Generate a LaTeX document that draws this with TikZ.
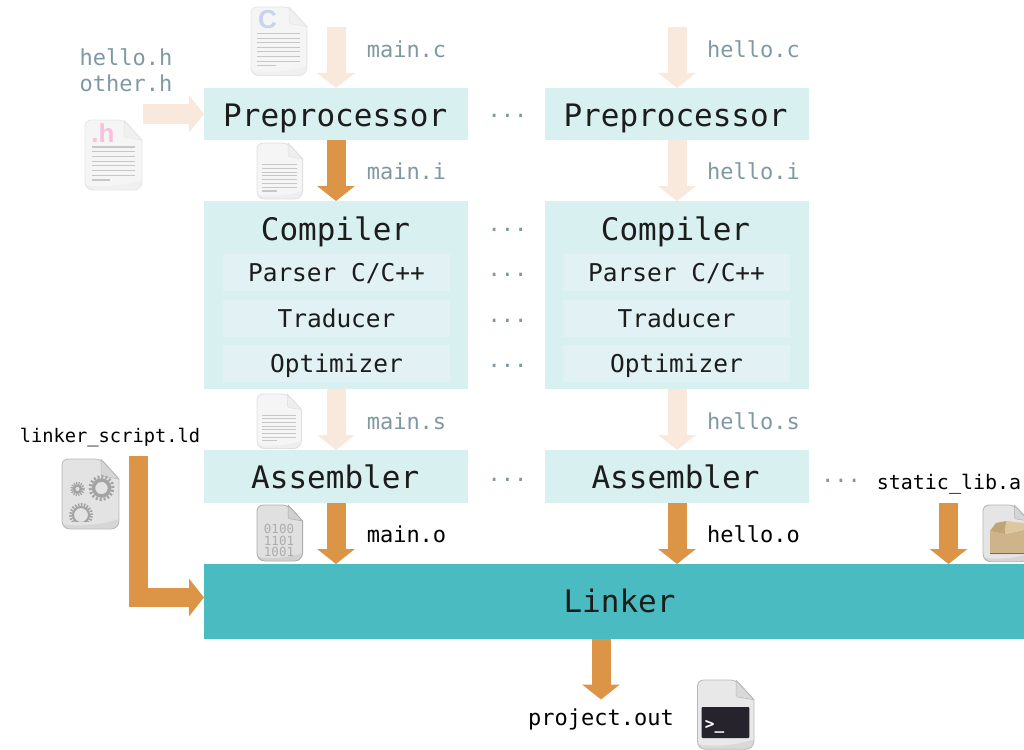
\documentclass[tikz,border=0pt]{standalone}
\usepackage{fontspec}
\setmainfont{Liberation Sans}
\setmonofont{DejaVu Sans Mono}
\usetikzlibrary{arrows.meta, positioning}

\definecolor{stagefill}{HTML}{D9F0F0}
\definecolor{passfill}{HTML}{E2F2F4}
\definecolor{linkfill}{HTML}{4ABBC0}
\definecolor{flowdark}{HTML}{DC9447}
\definecolor{flowlight}{HTML}{F9E9DC}
\definecolor{filetext}{HTML}{7F99A3}
\definecolor{inktext}{HTML}{1C1C1C}
\definecolor{cmark}{HTML}{C9D3F0}
\definecolor{hmark}{HTML}{F9BFDD}
\definecolor{boxfront}{HTML}{CDB48A}
\definecolor{boxflap}{HTML}{BFA577}
\definecolor{boxlid}{HTML}{DEC69E}
\definecolor{boxbase}{HTML}{826C4E}
\definecolor{termfill}{HTML}{26232C}

% a page with folded corner, 57 x 70 before scaling
\newcommand{\docicon}[5]{%
  \begin{scope}[shift={(#1,#2)},scale=#3]
    \path[fill=#4,draw=#5,line width=0.8pt,rounded corners=6pt]
      (0,70) -- (0,0) -- (39,0) [sharp corners] -- (57,20) [rounded corners=8pt] -- (57,70) -- cycle;
    \path[fill=#5,fill opacity=0.3,draw=#5,line width=0.5pt] (39,0) -- (39,15) -- (40,17) -- (57,20) -- cycle;
    \path[fill=#5,opacity=0.3] (0.5,65) .. controls (15,68) and (40,66) .. (56.5,60)
      .. controls (56.5,66) and (54,69.5) .. (49,69.5) -- (6,69.5) .. controls (2,69.5) and (0.5,68) .. (0.5,65);
  \end{scope}}
% the ruled text of a page
\newcommand{\doclines}[3]{%
  \begin{scope}[shift={(#1,#2)},scale=#3]
    \foreach \y in {27,31.7,36.4,41.1,45.8,50.5,55.2}
      \draw[line width=1.1pt,draw=black!22] (6.5,\y) -- (50,\y);
    \draw[line width=1.1pt,draw=black!22] (6.5,60) -- (25,60);
  \end{scope}}

\begin{document}
\begin{tikzpicture}[x=1pt, y=-1pt, every node/.style={inner sep=0pt, outer sep=0pt}]
\tikzset{
  stage/.style={fill=stagefill, minimum width=264pt},
  pass/.style={fill=passfill, minimum width=227pt, minimum height=37pt},
  title/.style={font=\ttfamily\fontsize{31}{31}\selectfont, text=inktext, text height=29pt, text depth=7pt},
  passname/.style={font=\ttfamily\fontsize{24.5}{24.5}\selectfont, text=inktext, text height=22pt, text depth=5pt},
  filename/.style={font=\ttfamily\fontsize{22}{22}\selectfont, text=filetext, text height=21pt, text depth=5pt},
  outname/.style={filename, text=black},
  more/.style={font=\ttfamily\fontsize{22}{22}\selectfont, text=filetext, yshift=-4pt},
  strong flow/.style={draw=flowdark, line width=19pt, -{Triangle[length=15pt,width=37pt]}},
  faint flow/.style={strong flow, draw=flowlight},
  bits/.style={font=\ttfamily\fontsize{12.5}{12.5}\selectfont, text=black!32}
}
\clip (0,0) rectangle (1024,749);

% stages of the two translation units
\node[stage, minimum height=52pt] (prep1) at (336,114) {};
\node[stage, minimum height=52pt] (prep2) at (677,114) {};
\node[stage, minimum height=188pt] (comp1) at (336,295) {};
\node[stage, minimum height=188pt] (comp2) at (677,295) {};
\node[stage, minimum height=53pt] (asm1) at (336,476.5) {};
\node[stage, minimum height=53pt] (asm2) at (677,476.5) {};
\node[fill=linkfill, minimum width=830pt, minimum height=75pt] (linker) at (619,601.5) {};

\node[title] (prep1 name) at (335.2,115) {Preprocessor};
\node[title] (prep2 name) at (675.5,115) {Preprocessor};
\node[title] (comp1 name) at (335.5,229) {Compiler};
\node[title] (comp2 name) at (675.5,229) {Compiler};
\node[title] (asm1 name) at (335.2,477) {Assembler};
\node[title] (asm2 name) at (675.5,477) {Assembler};
\node[title] (linker name) at (619.5,601) {Linker};

% passes inside the compilers
\foreach \c/\x in {1/336.5,2/676.5}{
  \node[pass, passname] (parser\c) at (\x,272.5) {Parser C/C++};
  \node[pass, passname] (traducer\c) at (\x,318.5) {Traducer};
  \node[pass, passname] (optimizer\c) at (\x,363.5) {Optimizer};
}

% free ends of the arrows
\coordinate (mainc in) at (336,27);
\coordinate (helloc in) at (677,27);
\coordinate (headers in) at (143,114);
\coordinate (script in) at (138,456);
\coordinate (script bend) at (138,597.5);
\coordinate (script end) at (204,597.5);
\coordinate (lib in) at (948.5,503);
\coordinate (out end) at (601,699.5);

% flow
\draw[faint flow] (mainc in) -- (prep1.north);
\draw[faint flow] (helloc in) -- (prep2.north);
\draw[faint flow] (headers in) -- (prep1.west);
\draw[strong flow] (prep1.south) -- (comp1.north);
\draw[faint flow] (prep2.south) -- (comp2.north);
\draw[faint flow] (comp1.south) -- (asm1.north);
\draw[faint flow] (comp2.south) -- (asm2.north);
\foreach \x in {1,2}
    \draw[strong flow] (asm\x.south) -- (asm\x.south |- linker.north);
\draw[strong flow] (lib in) -- (lib in |- linker.north);
\draw[strong flow, line join=miter] (script in) -- (script bend) -- (script end);
\draw[strong flow] (out end |- linker.south) -- (out end);

% file names
\node[filename] (hello h) at (126,58) {hello.h};
\node[filename] (other h) at (126,84) {other.h};
\node[filename] (main c) at (406.5,50) {main.c};
\node[filename] (hello c) at (753.5,50) {hello.c};
\node[filename] (main i) at (406.5,171) {main.i};
\node[filename] (hello i) at (753.5,171) {hello.i};
\node[filename] (main s) at (406.5,421) {main.s};
\node[filename] (hello s) at (753.5,421) {hello.s};
\node[outname] (main o) at (406.5,534) {main.o};
\node[outname] (hello o) at (753.5,534) {hello.o};
\node[outname] (project out) at (601,717) {project.out};
\node[outname, font=\ttfamily\fontsize{20}{20}\selectfont] (static lib) at (949,481) {static\_lib.a};
\node[outname, font=\ttfamily\fontsize{18.7}{18.7}\selectfont] (linker script) at (110,434) {linker\_script.ld};

% the dots between the columns
\foreach \n/\x/\y in {a/507.5/115,b/507.5/229,c/507.5/274,d/507.5/320,e/507.5/365,f/507.5/479,g/841/480}
  \node[more] (dots \n) at (\x,\y) {···};

% source and text pages
\docicon{251}{7}{0.98}{black!4}{black!10}
\doclines{251}{7}{0.98}
\node[font=\bfseries\fontsize{26}{26}\selectfont, text=cmark] (c mark) at (267.5,19.5) {C};
\docicon{85}{120}{1}{black!4}{black!10}
\doclines{85}{120}{1}
\node[font=\bfseries\fontsize{26}{26}\selectfont, text=hmark] (h mark) at (103,133) {.h};
\docicon{257}{143}{0.8}{black!4}{black!12}
\doclines{257}{143}{0.8}
\docicon{257}{394}{0.78}{black!4}{black!12}
\doclines{257}{394}{0.78}

% object file
\docicon{257}{505}{0.8}{black!12}{black!32}
\node[bits] (bits a) at (279,529) {0100};
\node[bits] (bits b) at (279,540.5) {1101};
\node[bits] (bits c) at (279,552) {1001};

% linker script page with gears
\docicon{62}{459}{1}{black!11}{black!28}
\begin{scope}[draw=black!36]
  \begin{scope}
    \clip (66,500) rectangle (98,521.5);
    \draw[line width=2pt] (81,515) circle (8pt);
    \draw[line width=3pt, dash pattern=on 1.5pt off 1.5pt] (81,515) circle (10.5pt);
  \end{scope}
  \draw[line width=3.5pt] (101.5,488) circle (8pt);
  \draw[line width=3pt, dash pattern=on 2pt off 2pt] (101.5,488) circle (11.5pt);
  \draw[line width=2.5pt] (77.5,489) circle (3.5pt);
  \draw[line width=2.5pt, dash pattern=on 1.2pt off 1.2pt] (77.5,489) circle (6pt);
\end{scope}

% library page with a box
\docicon{983}{505}{0.81}{black!10}{black!30}
\path[fill=boxfront] (990,531) -- (1005,534) -- (1024,530) -- (1024,554) -- (990,554) -- cycle;
\path[fill=boxflap] (990,531) -- (996,523) -- (1006,521) -- (1005,534) -- cycle;
\path[fill=boxlid] (1006,521) -- (1024,523) -- (1024,530) -- (1005,534) -- cycle;
\path[fill=boxbase] (990,552.5) rectangle (1024,554);

% executable page with a terminal
\docicon{697.5}{680}{0.99}{black!9}{black!28}
\path[fill=termfill,rounded corners=1pt] (701.7,707) rectangle (749.3,738);
\node[font=\ttfamily\bfseries\fontsize{16}{16}\selectfont, text=white] (prompt) at (714.5,727) {>\_};
\end{tikzpicture}
\end{document}
